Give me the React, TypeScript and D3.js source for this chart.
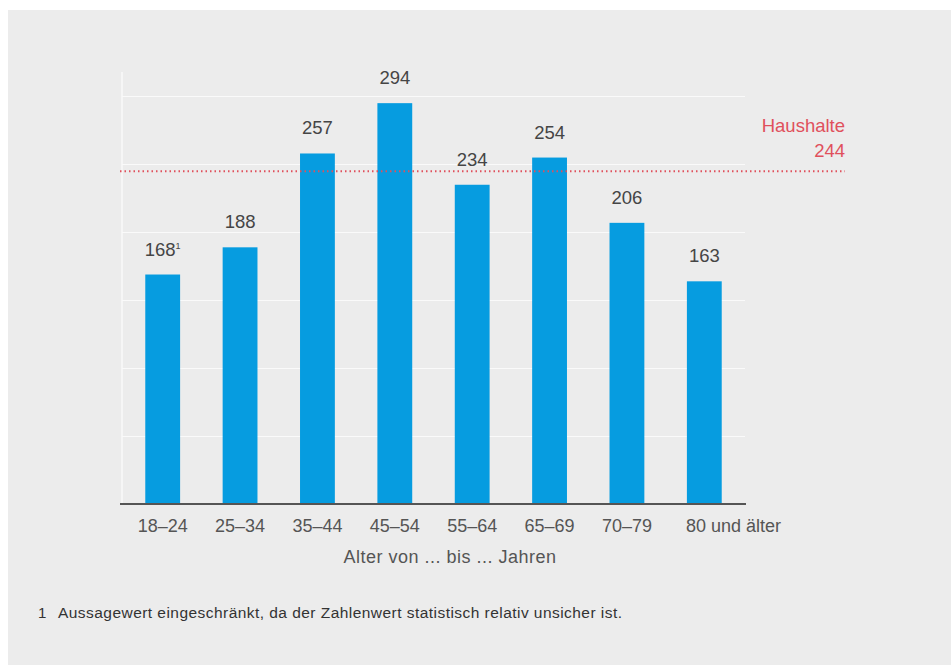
import React, { useEffect, useRef } from 'react'
import * as d3 from 'd3'

const categories = ['18–24', '25–34', '35–44', '45–54', '55–64', '65–69', '70–79', '80 und älter']
const values = [168, 188, 257, 294, 234, 254, 206, 163]
const footnoteMarks = ['1', '', '', '', '', '', '', '']
const gridTicks = [50, 100, 150, 200, 250, 300]
const householdsValue = 244

export default function App() {
  const ref = useRef<SVGSVGElement>(null)

  useEffect(() => {
    const width = 951
    const height = 665
    const svg = d3.select(ref.current)
    svg.selectAll('*').remove()
    const font = '"Liberation Sans", Arial, Helvetica, sans-serif'

    svg.append('rect').attr('width', width).attr('height', height).attr('fill', '#fff')
    svg.append('rect').attr('x', 8).attr('y', 10).attr('width', width - 8).attr('height', height - 10).attr('fill', '#ececec')

    const x = d3.scaleBand<string>()
      .domain(categories)
      .range([124, 743])
      .paddingInner(0.55)
      .paddingOuter(0.275)

    const y = d3.scaleLinear().domain([0, 300]).range([503, 95])

    // gridlines
    svg.append('g')
      .selectAll('line')
      .data(gridTicks)
      .enter()
      .append('line')
      .attr('x1', 122)
      .attr('x2', 745)
      .attr('y1', d => y(d) + 1.5)
      .attr('y2', d => y(d) + 1.5)
      .attr('stroke', '#fafafa')
      .attr('stroke-width', 1)

    svg.append('line')
      .attr('x1', 122).attr('x2', 122)
      .attr('y1', 72).attr('y2', y(0))
      .attr('stroke', '#fafafa')
      .attr('stroke-width', 1.5)

    // bars
    svg.append('g')
      .selectAll('rect')
      .data(values)
      .enter()
      .append('rect')
      .attr('x', (d, i) => x(categories[i])!)
      .attr('width', x.bandwidth())
      .attr('y', d => y(d))
      .attr('height', d => y(0) - y(d))
      .attr('fill', '#069ce0')

    // value labels
    const labels = svg.append('g')
      .selectAll('text')
      .data(values)
      .enter()
      .append('text')
      .attr('x', (d, i) => x(categories[i])! + x.bandwidth() / 2)
      .attr('y', d => y(d) - 19)
      .attr('text-anchor', 'middle')
      .attr('font-family', font)
      .attr('font-size', 18.5)
      .attr('fill', '#454545')
    labels.append('tspan').text(d => d)
    labels.append('tspan')
      .attr('font-size', 9)
      .attr('dy', -7)
      .text((d, i) => footnoteMarks[i])

    // households reference line
    svg.append('line')
      .attr('x1', 120).attr('x2', 845)
      .attr('y1', y(householdsValue)).attr('y2', y(householdsValue))
      .attr('stroke', '#e0505c')
      .attr('stroke-width', 2)
      .attr('stroke-dasharray', '1.5 3')

    svg.append('text')
      .attr('x', 845).attr('y', 132)
      .attr('text-anchor', 'end')
      .attr('font-family', font)
      .attr('font-size', 18.5)
      .attr('fill', '#e0505c')
      .text('Haushalte')
    svg.append('text')
      .attr('x', 845).attr('y', 157)
      .attr('text-anchor', 'end')
      .attr('font-family', font)
      .attr('font-size', 18.5)
      .attr('fill', '#e0505c')
      .text(String(householdsValue))

    // x axis
    svg.append('line')
      .attr('x1', 120).attr('x2', 746)
      .attr('y1', y(0) + 1).attr('y2', y(0) + 1)
      .attr('stroke', '#555')
      .attr('stroke-width', 2)

    const last = categories.length - 1
    svg.append('g')
      .selectAll('text')
      .data(categories)
      .enter()
      .append('text')
      .attr('x', (d, i) => i === last ? x(d)! - 1 : x(d)! + x.bandwidth() / 2)
      .attr('y', 532)
      .attr('text-anchor', (d, i) => i === last ? 'start' : 'middle')
      .attr('font-family', font)
      .attr('font-size', 18)
      .attr('fill', '#555')
      .text(d => d)

    svg.append('text')
      .attr('x', 450).attr('y', 563)
      .attr('text-anchor', 'middle')
      .attr('font-family', font)
      .attr('font-size', 18)
      .attr('letter-spacing', 0.5)
      .attr('fill', '#555')
      .text('Alter von ... bis ... Jahren')

    // footnote
    svg.append('text')
      .attr('x', 38).attr('y', 618)
      .attr('font-family', font)
      .attr('font-size', 15)
      .attr('fill', '#333')
      .text('1')
    svg.append('text')
      .attr('x', 58).attr('y', 618)
      .attr('font-family', font)
      .attr('font-size', 15.5)
      .attr('fill', '#333')
      .attr('textLength', 564)
      .attr('lengthAdjust', 'spacing')
      .text('Aussagewert eingeschränkt, da der Zahlenwert statistisch relativ unsicher ist.')
  }, [])

  return (
    <svg
      ref={ref}
      width={951}
      height={665}
      style={{ position: 'absolute', left: 0, top: 0, display: 'block' }}
    />
  )
}
